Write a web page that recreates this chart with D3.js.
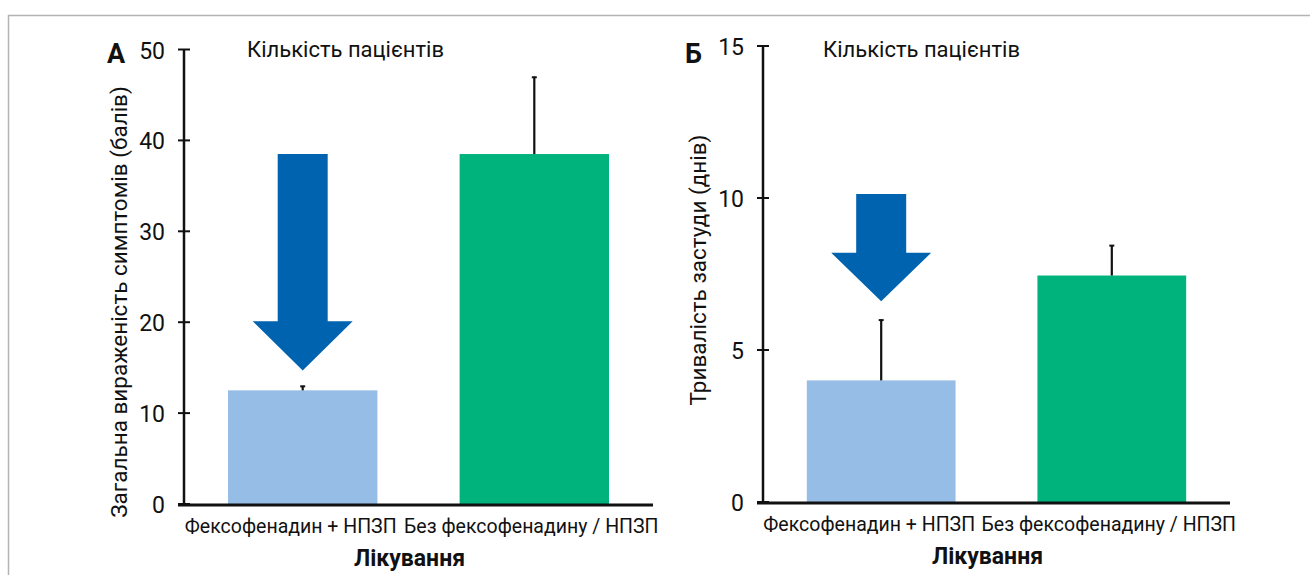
<!DOCTYPE html>
<html>
<head>
<meta charset="utf-8">
<script src="https://cdn.jsdelivr.net/npm/d3@7"></script>
<style>
  html, body { margin: 0; padding: 0; background: #fff; }
  svg { display: block; }
  text { font-family: Roboto, "Noto Sans", sans-serif; fill: #111; }
</style>
</head>
<body>
<svg id="chart" width="1310" height="575"></svg>
<script>
// Treatment groups
const categories = ["Фексофенадин + НПЗП", "Без фексофенадину / НПЗП"];

// Panel А: total symptom severity (points)
const severityValues = [12.5, 38.5];
const severityErrors = [0.5, 8.5];
const severityTicks = [0, 10, 20, 30, 40, 50];
const severityArrow = { top: 38.5, neck: 20.1, tip: 14.7 };

// Panel Б: cold duration (days)
const durationValues = [4.0, 7.45];
const durationErrors = [2.0, 1.0];
const durationTicks = [0, 5, 10, 15];
const durationArrow = { top: 10.13, neck: 8.2, tip: 6.6 };

const barColors = ["#95bde5", "#00b27c"];
const arrowColor = "#0063b0";

const svg = d3.select("#chart");

// frame
svg.append("path")
  .attr("d", "M8.5,575 L8.5,15.5 L1310,15.5")
  .attr("fill", "none")
  .attr("stroke", "#b4b4b4")
  .attr("stroke-width", 1.5);

function drawPanel(p) {
  const g = svg.append("g");
  const y = d3.scaleLinear().domain([0, p.max]).range([p.y0, p.yTop]);
  const x = d3.scaleBand().domain(categories)
    .range([p.axisX, p.axisEnd]).paddingInner(0.355).paddingOuter(0.19);

  // bars
  g.selectAll("rect.bar").data(p.values).join("rect")
    .attr("class", "bar")
    .attr("x", (d, i) => x(categories[i]))
    .attr("width", x.bandwidth())
    .attr("y", d => y(d))
    .attr("height", d => y(0) - y(d))
    .attr("fill", (d, i) => barColors[i]);

  // error bars (upper whisker only)
  p.values.forEach((v, i) => {
    const cx = x(categories[i]) + x.bandwidth() / 2;
    g.append("line")
      .attr("x1", cx).attr("x2", cx)
      .attr("y1", y(v)).attr("y2", y(v + p.errors[i]))
      .attr("stroke", "#111").attr("stroke-width", 2.2);
    g.append("line")
      .attr("x1", cx - 2.5).attr("x2", cx + 2.5)
      .attr("y1", y(v + p.errors[i]) + 0.5).attr("y2", y(v + p.errors[i]) + 0.5)
      .attr("stroke", "#111").attr("stroke-width", 2);
  });

  // downward arrow over the first bar
  const ax = x(categories[0]) + x.bandwidth() / 2;
  const sw = 25, hw = 50;
  const a = p.arrow;
  g.append("path")
    .attr("d", `M${ax - sw},${y(a.top)} L${ax + sw},${y(a.top)} L${ax + sw},${y(a.neck)}
                L${ax + hw},${y(a.neck)} L${ax},${y(a.tip)} L${ax - hw},${y(a.neck)}
                L${ax - sw},${y(a.neck)} Z`)
    .attr("fill", arrowColor);

  // y axis line with crossing ticks
  g.append("line")
    .attr("x1", p.axisX).attr("x2", p.axisX)
    .attr("y1", y(p.max)).attr("y2", y(0))
    .attr("stroke", "#111").attr("stroke-width", 2.5);
  g.selectAll("line.tick").data(p.ticks).join("line")
    .attr("class", "tick")
    .attr("x1", p.axisX - 6).attr("x2", p.axisX + 6)
    .attr("y1", d => y(d)).attr("y2", d => y(d))
    .attr("stroke", "#111").attr("stroke-width", 2);
  g.selectAll("text.tl").data(p.ticks).join("text")
    .attr("class", "tl")
    .attr("x", p.axisX - 19)
    .attr("y", d => y(d) + 9)
    .attr("text-anchor", "end")
    .attr("font-size", 23)
    .text(d => d);

  // x axis line
  g.append("line")
    .attr("x1", p.axisX - 6).attr("x2", p.axisEnd)
    .attr("y1", y(0) + 1).attr("y2", y(0) + 1)
    .attr("stroke", "#111").attr("stroke-width", 3);

  // category labels
  g.selectAll("text.cat").data(categories).join("text")
    .attr("class", "cat")
    .attr("x", (d, i) => x(d) + x.bandwidth() / 2 + (i === 0 ? -12 : -3))
    .attr("y", y(0) + 29)
    .attr("text-anchor", "middle")
    .attr("font-size", 19.5)
    .text(d => d);

  // axis titles
  g.append("text")
    .attr("x", (p.axisX + p.axisEnd) / 2 - 9)
    .attr("y", y(0) + 62)
    .attr("text-anchor", "middle")
    .attr("font-size", 23)
    .attr("font-weight", "bold")
    .text("Лікування");
  g.append("text")
    .attr("transform", `translate(${p.titleX},${p.titleY}) rotate(-90)`)
    .attr("text-anchor", "middle")
    .attr("font-size", 22.5)
    .text(p.yTitle);

  // panel letter and header
  g.append("text")
    .attr("x", p.letterX).attr("y", 63)
    .attr("font-size", 27).attr("font-weight", "bold")
    .text(p.letter);
  g.append("text")
    .attr("x", p.headX).attr("y", 57)
    .attr("font-size", 22)
    .text("Кількість пацієнтів");
}

drawPanel({
  values: severityValues, errors: severityErrors, ticks: severityTicks,
  arrow: severityArrow, max: 50, y0: 504, yTop: 49.5,
  axisX: 184, axisEnd: 653,
  yTitle: "Загальна вираженість симптомів (балів)", titleX: 127, titleY: 302,
  letter: "А", letterX: 107, headX: 247
});

drawPanel({
  values: durationValues, errors: durationErrors, ticks: durationTicks,
  arrow: durationArrow, max: 15, y0: 502, yTop: 46,
  axisX: 763, axisEnd: 1230,
  yTitle: "Тривалість застуди (днів)", titleX: 706, titleY: 270,
  letter: "Б", letterX: 685, headX: 823
});
</script>
</body>
</html>
